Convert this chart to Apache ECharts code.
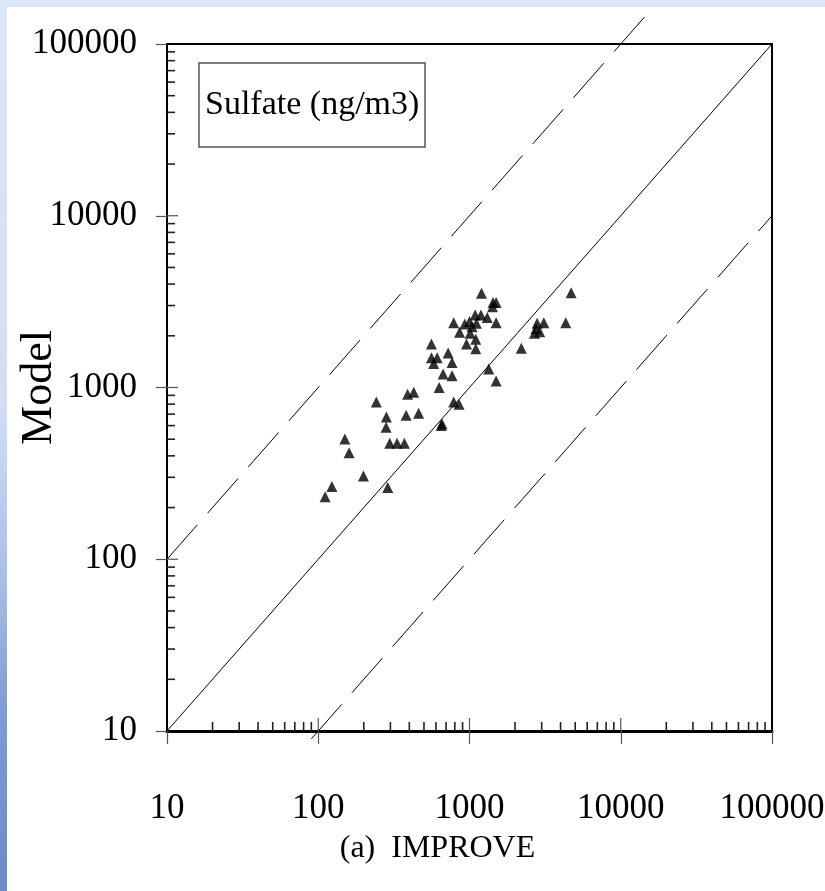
<!DOCTYPE html>
<html>
<head>
<meta charset="utf-8">
<script src="https://cdn.jsdelivr.net/npm/echarts@6/dist/echarts.min.js"></script>
<style>
html,body{margin:0;padding:0;}
body{
  width:825px;height:891px;overflow:hidden;
  background:
    linear-gradient(#dce6fa,#dce6fa) left top / 100% 7px no-repeat,
    linear-gradient(to bottom,#dce6fa 0%,#d2def6 45%,#a9bfe6 65%,#7c9bd2 80%,#6a8bc6 100%) left top / 7px 100% no-repeat,
    #ffffff;
}
#c{width:825px;height:891px;}
</style>
</head>
<body>
<div id="c"></div>
<script>
// ---- data ----
const improve = [1200,1430,1500,1420,786,930,1000,1090,1190,1310,1500,1110,1040,860,1010,955,1100,1100,560,560,611,580,722,767,669,767,630,390,428,242,282,281,381,461,786,853,1340,1500,659,650,297,332,371,150,160,199,123,288,2200,2800,3100,2690,2910,4700,4330,111,2750];
const model   = [3540,3130,3130,2950,2380,2340,2420,2640,2640,2560,2380,2370,2260,2100,2070,1790,1910,1680,1790,1490,1490,1380,1590,1400,1200,1170,1000,913,938,823,673,587,689,708,823,798,1280,1090,613,600,473,473,473,501,417,305,265,262,1690,2370,2380,2070,2110,3560,2380,231,2200];

// reference lines (1:1, 10:1 and 1:10)
const oneToOne   = [[9, 9], [100000, 100000]];
const tenToOne   = [[10, 100], [16400, 164000]];
const oneToTen   = [[90, 9], [226000, 22600]];

// axis ticks
const decades     = [10, 100, 1000, 10000, 100000];
const majorInner  = [100, 1000, 10000];
const multipliers = [2, 3, 4, 5, 6, 7, 8, 9];
const minorTicks  = [];
decades.slice(0, 4).forEach(d => multipliers.forEach(m => minorTicks.push(d * m)));
const innerTicks  = majorInner.concat(minorTicks);

const titleText = 'Sulfate (ng/m3)';
const xName = '(a)  IMPROVE';
const yName = 'Model';

const FONT = "'Liberation Serif','Times New Roman',serif";

const chart = echarts.init(document.getElementById('c'), null, {renderer: 'canvas'});

function tickRenderer(isX) {
  return function (params, api) {
    const v = isX ? api.value(0) : api.value(1);
    const p = api.coord([api.value(0), api.value(1)]);
    const major = majorInner.indexOf(v) >= 0;
    const len = isX ? (major ? 13 : 9) : (major ? 11 : 8);
    return {
      type: 'line',
      shape: isX ? {x1: p[0], y1: p[1], x2: p[0], y2: p[1] - len}
                 : {x1: p[0], y1: p[1], x2: p[0] + len, y2: p[1]},
      style: {stroke: major ? '#555' : '#222', lineWidth: major ? 1.2 : 1.6}
    };
  };
}

const plain = v => String(Math.round(v));

chart.setOption({
  animation: false,
  backgroundColor: 'transparent',
  title: {
    text: titleText,
    left: 199, top: 63,
    padding: [25, 6],
    borderColor: '#555', borderWidth: 1.5,
    textStyle: {fontFamily: FONT, fontSize: 34, fontWeight: 'normal', color: '#000'}
  },
  grid: {
    left: 167, right: 53, top: 44, bottom: 160,
    outerBoundsMode: 'none', containLabel: false,
    show: true, borderColor: '#000', borderWidth: 2, backgroundColor: 'transparent'
  },
  xAxis: {
    type: 'log', logBase: 10, min: 10, max: 100000,
    name: xName, nameLocation: 'middle', nameGap: 102, nameMoveOverlap: false,
    nameTextStyle: {fontFamily: FONT, fontSize: 32, color: '#000', padding: [0, 64, 0, 0]},
    axisLine: {show: true, lineStyle: {color: '#000', width: 3}},
    axisTick: {show: true, inside: false, length: 13, lineStyle: {color: '#555', width: 1.2}},
    axisLabel: {fontFamily: FONT, fontSize: 35, color: '#000', margin: 60, showMinLabel: true, showMaxLabel: true, formatter: plain},
    splitLine: {show: false}, minorTick: {show: false}
  },
  yAxis: {
    type: 'log', logBase: 10, min: 10, max: 100000,
    name: yName, nameLocation: 'middle', nameGap: 106, nameRotate: 90, nameMoveOverlap: false,
    nameTextStyle: {fontFamily: FONT, fontSize: 44, color: '#000'},
    axisLine: {show: true, lineStyle: {color: '#000', width: 2}},
    axisTick: {show: true, inside: false, length: 11, lineStyle: {color: '#555', width: 1.2}},
    axisLabel: {fontFamily: FONT, fontSize: 35, color: '#000', margin: 30, padding: [6, 0, 0, 0], showMinLabel: true, showMaxLabel: true, formatter: plain},
    splitLine: {show: false}, minorTick: {show: false}
  },
  series: [
    {
      type: 'line', data: oneToOne, symbol: 'none', clip: false, silent: true,
      lineStyle: {color: '#000', width: 1}, z: 3
    },
    {
      type: 'line', data: tenToOne, symbol: 'none', clip: false, silent: true,
      lineStyle: {color: '#000', width: 1, type: [46, 15.5]}, z: 3
    },
    {
      type: 'line', data: oneToTen, symbol: 'none', clip: false, silent: true,
      lineStyle: {color: '#000', width: 1, type: [46, 15.5]}, z: 3
    },
    {
      type: 'scatter',
      data: improve.map((v, i) => [v, model[i]]),
      symbol: 'triangle', symbolSize: [11, 11],
      itemStyle: {color: '#000'}, z: 4
    },
    {
      type: 'custom', silent: true, clip: false, z: 5,
      data: innerTicks.map(v => [v, 10]),
      encode: {x: 0, y: 1},
      renderItem: tickRenderer(true)
    },
    {
      type: 'custom', silent: true, clip: false, z: 5,
      data: innerTicks.map(v => [10, v]),
      encode: {x: 0, y: 1},
      renderItem: tickRenderer(false)
    }
  ]
});
</script>
</body>
</html>
